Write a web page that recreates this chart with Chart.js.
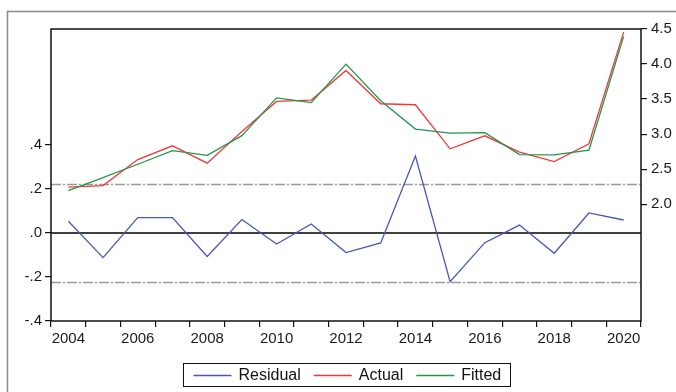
<!DOCTYPE html>
<html>
<head>
<meta charset="utf-8">
<script src="https://cdn.jsdelivr.net/npm/chart.js@4.4.1/dist/chart.umd.min.js"></script>
<style>
  html, body { margin: 0; padding: 0; background: #fff; overflow: hidden; }
  #wrap { position: relative; width: 676px; height: 392px; }
</style>
</head>
<body>
<div id="wrap"><canvas id="c" width="676" height="392"></canvas></div>
<script>
// Residual / Actual / Fitted, 2004-2020
const years = ['2004','2005','2006','2007','2008','2009','2010','2011','2012',
               '2013','2014','2015','2016','2017','2018','2019','2020'];
const residual = [0.053, -0.112, 0.070, 0.070, -0.107, 0.061, -0.050, 0.041, -0.089,
                  -0.045, 0.350, -0.221, -0.044, 0.036, -0.092, 0.091, 0.059];
const actual   = [2.243, 2.266, 2.637, 2.833, 2.586, 3.037, 3.466, 3.486, 3.909,
                  3.433, 3.419, 2.790, 2.976, 2.743, 2.609, 2.862, 4.455];
const fitted   = [2.192, 2.380, 2.570, 2.763, 2.697, 2.978, 3.517, 3.450, 3.998,
                  3.476, 3.072, 3.013, 3.021, 2.708, 2.703, 2.771, 4.395];
const residualStd = 0.224;
const residualTicks = [-0.4, -0.2, 0, 0.2, 0.4];
const levelTicks = [2.0, 2.5, 3.0, 3.5, 4.0, 4.5];

const FONT = 'Liberation Sans, Arial, sans-serif';
const COLORS = { residual: '#4a55b8', actual: '#f03a3a', fitted: '#23964a' };

const fmtResidual = v => {
  const s = Math.abs(v).toFixed(1).replace(/^0/, '');
  return (v < 0 ? '-' : '') + s;
};

// reference lines: zero line and +/- one standard error band
const refLines = {
  id: 'refLines',
  beforeDatasetsDraw(chart) {
    const { ctx, chartArea: a } = chart;
    const ys = chart.scales.yRes;
    ctx.save();
    ctx.lineWidth = 1.3;
    ctx.strokeStyle = '#9a9a9a';
    ctx.setLineDash([10, 2, 2, 2]);
    [residualStd, -residualStd].forEach(v => {
      const y = Math.round(ys.getPixelForValue(v)) + 0.5;
      ctx.beginPath(); ctx.moveTo(a.left, y); ctx.lineTo(a.right, y); ctx.stroke();
    });
    ctx.setLineDash([]);
    ctx.strokeStyle = '#000';
    ctx.lineWidth = 1.4;
    const y0 = ys.getPixelForValue(0);
    ctx.beginPath(); ctx.moveTo(a.left, y0); ctx.lineTo(a.right, y0); ctx.stroke();
    ctx.restore();
  }
};

// page background, outer frame, plot frame and boxed legend
const frame = {
  id: 'frame',
  beforeDraw(chart) {
    const { ctx, width, height } = chart;
    ctx.save();
    ctx.fillStyle = '#fff';
    ctx.fillRect(0, 0, width, height);
    ctx.strokeStyle = '#8a8a8a';
    ctx.lineWidth = 1.5;
    ctx.strokeRect(7.5, 11.5, width + 20, height + 20);
    ctx.restore();
  },
  afterDraw(chart) {
    const { ctx, chartArea: a } = chart;
    ctx.save();
    ctx.strokeStyle = '#111';
    ctx.lineWidth = 1.5;
    ctx.strokeRect(a.left, a.top, a.right - a.left, a.bottom - a.top);

    // legend
    ctx.font = '16px ' + FONT;
    ctx.textBaseline = 'middle';
    const items = chart.data.datasets.map(d => ({ label: d.label, color: d.borderColor }));
    const lineLen = 38, gapText = 7, gapItem = 13, padL = 10, padR = 9;
    const widths = items.map(it => ctx.measureText(it.label).width);
    let total = padL + padR;
    widths.forEach((w, i) => { total += lineLen + gapText + w + (i < items.length - 1 ? gapItem : 0); });
    const cx = (a.left + a.right) / 2;
    const bx = Math.round(cx - total / 2) + 0.5;
    const by = 363.5, bh = 23;
    ctx.lineWidth = 1;
    ctx.strokeStyle = '#111';
    ctx.strokeRect(bx, by, Math.round(total), bh);
    let x = bx + padL;
    const ly = by + bh / 2 + 0.5;
    items.forEach((it, i) => {
      ctx.strokeStyle = it.color;
      ctx.lineWidth = 1.3;
      ctx.beginPath(); ctx.moveTo(x, ly); ctx.lineTo(x + lineLen, ly); ctx.stroke();
      x += lineLen + gapText;
      ctx.fillStyle = '#111';
      ctx.fillText(it.label, x, ly);
      x += widths[i] + gapItem;
    });
    ctx.restore();
  }
};

new Chart(document.getElementById('c'), {
  type: 'line',
  data: {
    labels: years,
    datasets: [
      { label: 'Residual', data: residual, yAxisID: 'yRes', borderColor: COLORS.residual, order: 3 },
      { label: 'Actual',   data: actual,   yAxisID: 'yLev', borderColor: COLORS.actual,   order: 2 },
      { label: 'Fitted',   data: fitted,   yAxisID: 'yLev', borderColor: COLORS.fitted,   order: 1 }
    ]
  },
  options: {
    responsive: false,
    animation: false,
    devicePixelRatio: 1,
    layout: { padding: { top: 29, bottom: 46, left: 0, right: 0 } },
    plugins: { legend: { display: false }, tooltip: { enabled: false } },
    elements: {
      point: { radius: 0, hoverRadius: 0 },
      line: { borderWidth: 1.3, tension: 0, fill: false }
    },
    scales: {
      x: {
        type: 'category',
        offset: true,
        grid: { offset: true, drawOnChartArea: false, drawTicks: true, tickLength: 6, color: '#111', lineWidth: 1.2 },
        border: { display: false },
        ticks: {
          autoSkip: false, maxRotation: 0, minRotation: 0, padding: 3,
          color: '#1a1a1a', font: { family: FONT, size: 15 },
          callback: (v, i) => (i % 2 === 0 ? years[i] : '')
        },
        afterFit(s) { s.height = 25; }
      },
      yRes: {
        type: 'linear',
        position: 'left',
        min: -0.4,
        max: 0.927,
        afterBuildTicks(s) { s.ticks = residualTicks.map(v => ({ value: v })); },
        grid: { drawOnChartArea: false, drawTicks: true, tickLength: 6, color: '#111', lineWidth: 1.2 },
        border: { display: false },
        ticks: { padding: 3, color: '#1a1a1a', font: { family: FONT, size: 15 }, callback: v => fmtResidual(v) },
        afterFit(s) { s.width = 51; }
      },
      yLev: {
        type: 'linear',
        position: 'right',
        min: 0.333,
        max: 4.5,
        afterBuildTicks(s) { s.ticks = levelTicks.map(v => ({ value: v })); },
        grid: { drawOnChartArea: false, drawTicks: true, tickLength: 6, color: '#111', lineWidth: 1.2 },
        border: { display: false },
        ticks: { padding: 4, color: '#1a1a1a', font: { family: FONT, size: 15 }, callback: v => Number(v).toFixed(1) },
        afterFit(s) { s.width = 35; }
      }
    }
  },
  plugins: [frame, refLines]
});
</script>
</body>
</html>
